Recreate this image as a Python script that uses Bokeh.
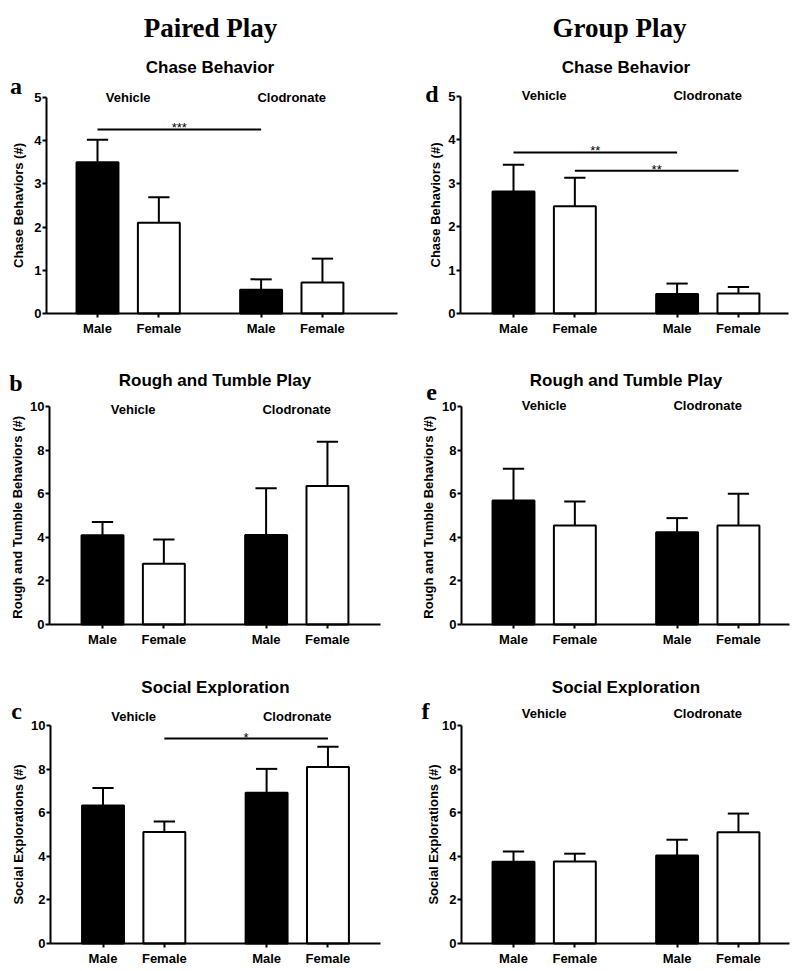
from bokeh.plotting import figure
from bokeh.models import Range1d, FixedTicker, Label, ColumnDataSource
from bokeh.layouts import column, row
from bokeh.embed import file_html
from bokeh.resources import INLINE

# ---------------- data ----------------
groups = ["Vehicle", "Clodronate"]
sexes = ["Male", "Female"]
headers = ["Paired Play", "Group Play"]

# Paired play
chase_paired_mean = [3.50, 2.10, 0.55, 0.72]
chase_paired_sem = [0.52, 0.59, 0.24, 0.55]
rough_paired_mean = [4.09, 2.79, 4.11, 6.35]
rough_paired_sem = [0.61, 1.11, 2.14, 2.03]
social_paired_mean = [6.33, 5.11, 6.91, 8.10]
social_paired_sem = [0.80, 0.49, 1.10, 0.92]

# Group play
chase_group_mean = [2.81, 2.47, 0.45, 0.46]
chase_group_sem = [0.62, 0.66, 0.24, 0.15]
rough_group_mean = [5.69, 4.54, 4.23, 4.54]
rough_group_sem = [1.45, 1.10, 0.65, 1.46]
social_group_mean = [3.75, 3.76, 4.04, 5.10]
social_group_sem = [0.47, 0.36, 0.72, 0.86]

# significance brackets: (bar i, bar j, height, stars)
chase_paired_sig = [(0, 2, 4.26, "***")]
chase_group_sig = [(0, 2, 3.71, "**"), (1, 3, 3.29, "**")]
social_paired_sig = [(1, 3, 9.40, "*")]

# ---------------- layout / style ----------------
U = 20.45          # px per x unit
BAR_W = 2.05
CAP_HALF = 0.52
POS = [g * 8 + s * 3 for g in range(len(groups)) for s in range(len(sexes))]
FILLS = ["black", "white"]
SANS = "Liberation Sans"
SERIF = "Liberation Serif"

panels = [
    dict(letter="a", title="Chase Behavior", ylabel="Chase Behaviors (#)",
         mean=chase_paired_mean, sem=chase_paired_sem, sig=chase_paired_sig,
         ymax=5, step=1, fl=0, fr=400, ft=0, fb=340, axis=46, xend=397, bar0=97,
         y0=313, ymaxpx=97, grp_y=97, letter_xy=(15.5, 85), title_y=67,
         lab_sd=5, header=headers[0], header_x=210),
    dict(letter="d", title="Chase Behavior", ylabel="Chase Behaviors (#)",
         mean=chase_group_mean, sem=chase_group_sem, sig=chase_group_sig,
         ymax=5, step=1, fl=400, fr=798, ft=0, fb=340, axis=460, xend=788, bar0=513,
         y0=313, ymaxpx=96, grp_y=95, letter_xy=(431.5, 93), title_y=67,
         lab_sd=2, header=headers[1], header_x=619),
    dict(letter="b", title="Rough and Tumble Play", ylabel="Rough and Tumble Behaviors  (#)",
         mean=rough_paired_mean, sem=rough_paired_sem, sig=[],
         ymax=10, step=2, fl=0, fr=400, ft=340, fb=650, axis=49, xend=380, bar0=102,
         y0=624, ymaxpx=406, grp_y=409, letter_xy=(15.5, 382), title_y=380,
         lab_sd=2),
    dict(letter="e", title="Rough and Tumble Play", ylabel="Rough and Tumble Behaviors  (#)",
         mean=rough_group_mean, sem=rough_group_sem, sig=[],
         ymax=10, step=2, fl=400, fr=798, ft=340, fb=650, axis=461, xend=789, bar0=513,
         y0=624, ymaxpx=406, grp_y=405, letter_xy=(431, 392), title_y=380,
         lab_sd=3),
    dict(letter="c", title="Social Exploration", ylabel="Social Explorations (#)",
         mean=social_paired_mean, sem=social_paired_sem, sig=social_paired_sig,
         ymax=10, step=2, fl=0, fr=400, ft=650, fb=970, axis=50, xend=380, bar0=102.5,
         y0=943, ymaxpx=725, grp_y=716, letter_xy=(16, 710), title_y=687,
         lab_sd=2),
    dict(letter="f", title="Social Exploration", ylabel="Social Explorations (#)",
         mean=social_group_mean, sem=social_group_sem, sig=[],
         ymax=10, step=2, fl=400, fr=798, ft=650, fb=970, axis=461, xend=789, bar0=513,
         y0=943, ymaxpx=725, grp_y=713, letter_xy=(425, 710), title_y=687,
         lab_sd=-2),
]


def build(spec):
    ppu = (spec["y0"] - spec["ymaxpx"]) / spec["ymax"]
    xd = lambda px: (px - spec["bar0"]) / U
    yd = lambda py: (spec["y0"] - py) / ppu
    w = spec["fr"] - spec["fl"]
    h = spec["fb"] - spec["ft"]
    p = figure(width=w, height=h,
               x_range=Range1d(xd(spec["fl"]), xd(spec["fr"])),
               y_range=Range1d(yd(spec["fb"]), yd(spec["ft"])),
               output_backend="svg", toolbar_location=None, tools="",
               min_border=0, min_border_left=0, min_border_right=0,
               min_border_top=0, min_border_bottom=0,
               background_fill_color="white", border_fill_color="white",
               outline_line_color=None)
    p.xgrid.visible = False
    p.ygrid.visible = False

    mean = spec["mean"]
    sem = spec["sem"]
    src = ColumnDataSource(dict(
        x=POS, top=mean, etop=[m + s for m, s in zip(mean, sem)],
        cl=[x - CAP_HALF for x in POS], cr=[x + CAP_HALF for x in POS],
        fill=[FILLS[i % 2] for i in range(len(POS))]))
    p.segment(x0="cl", y0="etop", x1="cr", y1="etop", line_color="black",
              line_width=2, source=src)
    p.vbar(x="x", top="top", bottom=0, width=BAR_W, fill_color="fill",
           line_color="black", line_width=2, source=src)
    p.segment(x0="x", y0="top", x1="x", y1="etop", line_color="black",
              line_width=2, source=src)

    for i, j, yv, stars in spec["sig"]:
        p.segment(x0=[POS[i]], y0=[yv], x1=[POS[j]], y1=[yv],
                  line_color="black", line_width=2)
        p.add_layout(Label(x=(POS[i] + POS[j]) / 2, y=yv + 1.5 / ppu, text=stars,
                           text_align="center", text_baseline="alphabetic",
                           text_font=SANS, text_font_size="13px",
                           text_color="black"))

    # group labels
    for g, name in enumerate(groups):
        cx = (POS[g * 2] + POS[g * 2 + 1]) / 2
        p.add_layout(Label(x=cx, y=yd(spec["grp_y"]), text=name,
                           text_align="center", text_baseline="middle",
                           text_font=SANS, text_font_style="bold",
                           text_font_size="13px", text_color="black"))
    # title
    p.add_layout(Label(x=(POS[0] + POS[-1]) / 2, y=yd(spec["title_y"]),
                       text=spec["title"], text_align="center",
                       text_baseline="middle", text_font=SANS,
                       text_font_style="bold", text_font_size="17px",
                       text_color="black"))
    # panel letter
    lx, ly = spec["letter_xy"]
    p.add_layout(Label(x=xd(lx), y=yd(ly), text=spec["letter"],
                       text_align="center", text_baseline="alphabetic",
                       text_font=SERIF, text_font_style="bold",
                       text_font_size="24px", text_color="black"))
    # column header
    if "header" in spec:
        p.add_layout(Label(x=xd(spec["header_x"]), y=yd(27), text=spec["header"],
                           text_align="center", text_baseline="alphabetic",
                           text_font=SERIF, text_font_style="bold",
                           text_font_size="27px", text_color="black"))

    # axes (drawn at fixed data locations inside the full-size frame)
    xa = p.xaxis[0]
    xa.fixed_location = 0
    xa.ticker = FixedTicker(ticks=POS)
    xa.major_label_overrides = {x: sexes[k % 2] for k, x in enumerate(POS)}
    xa.bounds = (xd(spec["axis"]), xd(spec["xend"]))
    ya = p.yaxis[0]
    ya.fixed_location = xd(spec["axis"])
    ya.ticker = FixedTicker(ticks=list(range(0, spec["ymax"] + 1, spec["step"])))
    ya.bounds = (0, spec["ymax"])
    ya.axis_label = spec["ylabel"]
    ya.axis_label_standoff = spec["lab_sd"]
    ya.axis_label_text_font = SANS
    ya.axis_label_text_font_style = "bold"
    ya.axis_label_text_font_size = "13px"
    ya.axis_label_text_color = "black"
    for ax in (xa, ya):
        ax.axis_line_width = 2
        ax.axis_line_color = "black"
        ax.major_tick_line_width = 2
        ax.major_tick_line_color = "black"
        ax.major_tick_out = 4
        ax.major_tick_in = 0
        ax.minor_tick_line_color = None
        ax.major_label_text_font = SANS
        ax.major_label_text_font_style = "bold"
        ax.major_label_text_font_size = "13px"
        ax.major_label_text_color = "black"
    xa.major_label_standoff = 3
    ya.major_label_standoff = 1
    return p


figs = [build(s) for s in panels]
layout = column(row(figs[0], figs[1]), row(figs[2], figs[3]), row(figs[4], figs[5]))

with open("out.html", "w") as f:
    f.write(file_html(layout, INLINE))
